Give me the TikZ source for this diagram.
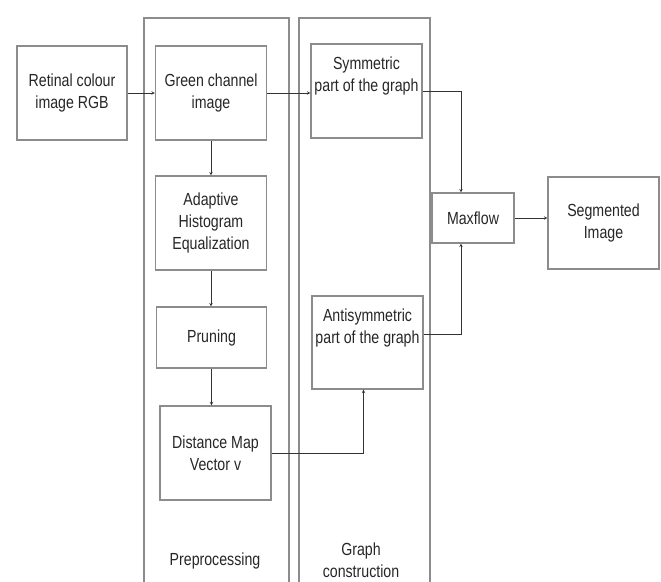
\documentclass[tikz,border=0pt]{standalone}
\usepackage{fontspec}
\setmainfont{Liberation Sans}[FakeStretch=0.81]
\usepackage{tikz}
\usetikzlibrary{shapes, arrows, calc, positioning}

\begin{document}
\begin{tikzpicture}[>=stealth, x=1pt, y=-1pt]
    \tikzstyle{format} = [draw=black!45, line width=1.1pt, minimum width=111pt,
	minimum height=94pt, inner sep=0pt, align=center, text=black!85,
	font=\fontsize{17.5}{22}\selectfont]
    \tikzstyle{caption} = [align=center, text=black!85, font=\fontsize{17.5}{22}\selectfont]
    \tikzstyle{link} = [->, line width=0.6pt, black!80]
    \tikzstyle{elbow} = [link, to path={-| (\tikztotarget)}]

	\useasboundingbox (0,0) rectangle (661,581);

	% the two stages
	\draw[black!45, line width=1.1pt] (144,590) |- (289,18) -- (289,590);
	\draw[black!45, line width=1.1pt] (299,590) |- (430,18) -- (430,590);

	\begin{scope}
		\path
			node[format, minimum width=110pt] (rgb) at (72,93) {Retinal colour\\image RGB}
			node[format] (green) at (211,93) {Green channel\\image}
			node[format] (ahe) at (211,223) {Adaptive\\Histogram\\Equalization}
			node[format, minimum width=110pt, minimum height=61pt] (prune) at (211.5,337.5) {Pruning}
			node[format] (dmap) at (215.5,453) {Distance Map\\Vector v}

			node[format] (sym) at (366.5,91) {}
			node[format, minimum height=93pt] (anti) at (367.5,342.5) {}
			node[caption] (symtxt) at (366.5,75.5) {Symmetric\\part of the graph}
			node[caption] (antitxt) at (367.5,328) {Antisymmetric\\part of the graph}

			node[format, minimum width=82pt, minimum height=50pt] (mflow) at (473,218) {Maxflow}
			node[format, minimum height=92pt] (seg) at (603.5,223) {Segmented\\Image}

			node[caption] (pre) at (215,561) {Preprocessing}
			node[caption] (gc) at (361,560) {Graph\\construction}

			(rgb.east) edge[link] (rgb.east -| green.west)
			(green.east) edge[link] (green.east -| sym.west)
			(green) edge[link] (ahe)
			(ahe.south) edge[link] (ahe.south |- prune.north)
			(prune.south) edge[link] (prune.south |- dmap.north)

			(dmap.east) edge[elbow] ([xshift=-4pt]anti.south)
			(sym.east) edge[elbow] ([xshift=-12pt]mflow.north)
			([yshift=8pt]anti.east) edge[elbow] ([xshift=-12pt]mflow.south)
			(mflow.east) edge[link] (mflow.east -| seg.west)
		;
	\end{scope}
\end{tikzpicture}
\end{document}
